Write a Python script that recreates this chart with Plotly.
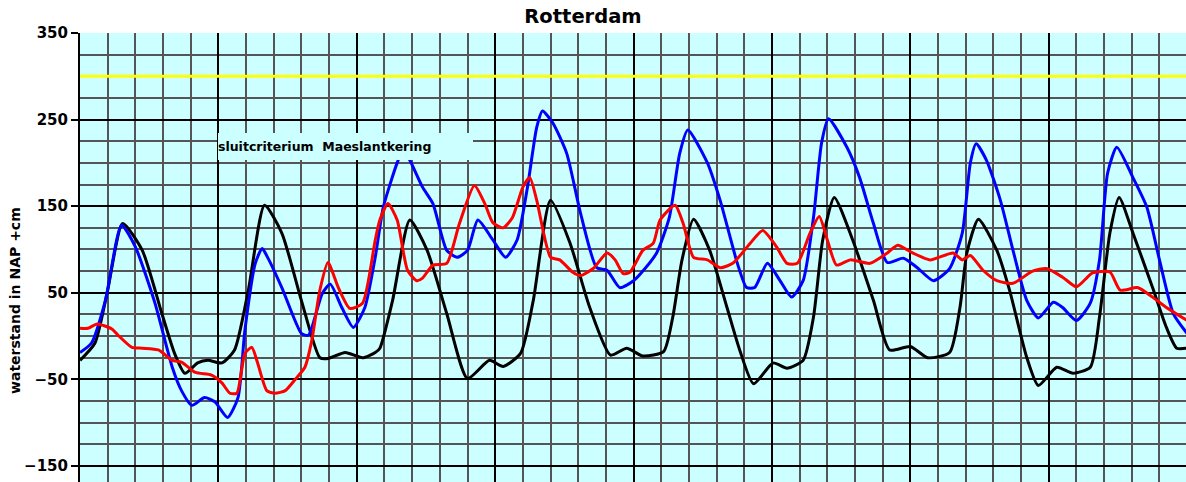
import plotly.graph_objects as go

# ---- data (hours since start, waterstand in cm NAP) ----
black_h = [0, 1.3, 2.4, 3.7, 5.4, 7.1, 8.2, 9.1, 10.2, 11.1, 12.3, 13.4, 14.6, 16.0, 17.5, 19.2, 20.8, 21.5,
           23.0, 24.5, 25.6, 26.0, 27.1, 28.6, 30.1, 31.8, 33.6, 35.5, 36.7, 38.2, 39.3, 40.8, 42.5, 44.2,
           46.0, 47.4, 48.8, 50.6, 51.4, 52.2, 53.2, 54.6, 56.1, 57.2, 58.4, 60.1, 61.3, 62.7, 63.6, 64.4,
           65.4, 67.0, 68.8, 70.2, 72.0, 73.5, 75.4, 76.3, 76.9, 77.9, 79.5, 80.6, 82.1, 83.1, 84.7, 86.1,
           87.6, 88.4, 89.3, 90.1, 91.3, 93.0, 94.2, 95.1, 96.0]
black_v = [-28, -8, 53, 130, 99, 26, -20, -43, -31, -28, -31, -16, 53, 151, 119, 41, -25, -26,
           -19, -25, -19, -14, 41, 134, 99, 26, -49, -28, -35, -20, 41, 157, 107, 33,
           -22, -14, -23, -18, 22, 88, 135, 99, 33, -16, -55, -31, -37, -28, 22, 111,
           160, 111, 41, -16, -12, -25, -19, 33, 96, 135, 99, 53, -25, -57, -36, -43,
           -36, 22, 119, 160, 119, 56, 10, -14, -14]

blue_h = [0, 1.0, 2.2, 3.6, 4.8, 6.5, 8.0, 8.8, 9.7, 10.8, 11.7, 12.8, 13.7, 14.3, 15.2, 15.8, 16.3, 17.5,
          19.2, 19.8, 21.0, 21.7, 22.7, 23.7, 24.7, 25.6, 26.3, 27.5, 28.0, 28.6, 29.7, 30.6, 31.8, 32.7,
          33.6, 34.5, 35.8, 36.9, 37.9, 38.8, 39.6, 40.1, 41.0, 42.2, 43.4, 44.8, 45.7, 46.8, 48.0, 48.6,
          50.0, 51.1, 52.0, 52.7, 54.4, 55.5, 57.0, 57.8, 58.5, 59.6, 60.7, 61.7, 62.7, 63.6, 64.3, 64.9,
          66.5, 67.6, 68.8, 70.0, 71.4, 72.6, 74.0, 75.4, 76.5, 77.2, 77.7, 78.6, 79.8, 80.9, 82.1, 83.1,
          84.4, 85.2, 86.4, 87.6, 88.4, 89.1, 89.9, 91.3, 92.5, 93.6, 94.8, 96.0]
blue_v = [-19, -8, 41, 128, 103, 38, -36, -63, -80, -71, -76, -94, -71, 7, 84, 101, 90, 56,
          3, 1, 49, 60, 33, 10, 33, 91, 149, 200, 215, 203, 172, 153, 99, 91,
          99, 134, 111, 91, 111, 172, 241, 260, 246, 211, 142, 79, 76, 56, 64, 72,
          96, 137, 211, 238, 200, 157, 84, 56, 56, 84, 64, 45, 64, 137, 223, 251,
          218, 183, 130, 85, 90, 79, 64, 78, 119, 200, 222, 203, 157, 99, 41, 21,
          39, 33, 18, 38, 88, 188, 218, 183, 149, 88, 26, 3]

red_h = [0, 0.7, 1.5, 2.8, 3.3, 4.5, 5.4, 6.8, 8.0, 8.8, 10.0, 11.4, 12.3, 13.0, 13.6, 14.3, 14.9, 15.4,
         16.2, 16.9, 17.8, 18.6, 19.5, 20.1, 20.8, 21.5, 22.4, 23.4, 24.5, 25.6, 26.0, 26.7, 27.5, 28.4,
         29.2, 29.7, 30.6, 31.8, 32.9, 34.2, 35.1, 35.8, 36.7, 37.5, 38.4, 39.0, 39.6, 40.8, 41.6, 42.7,
         43.4, 44.5, 45.7, 46.4, 47.1, 47.7, 48.8, 49.7, 50.3, 51.6, 52.3, 53.2, 54.4, 55.5, 56.6, 58.1,
         59.2, 60.4, 61.3, 62.2, 63.3, 64.1, 64.8, 65.6, 66.8, 68.5, 70.0, 70.9, 72.2, 73.7, 75.7, 76.5,
         77.2, 78.3, 79.5, 80.9, 82.6, 83.8, 85.2, 86.4, 87.8, 89.3, 90.2, 91.7, 93.0, 94.2, 96.0]
red_v = [9, 9, 14, 8, 1, -13, -14, -16, -28, -30, -42, -45, -54, -66, -66, -20, -13, -31,
         -63, -66, -63, -51, -36, -5, 53, 85, 56, 32, 38, 111, 134, 153, 134, 76,
         64, 67, 82, 84, 130, 174, 153, 131, 125, 137, 172, 183, 157, 91, 88, 74,
         70, 78, 96, 88, 72, 74, 99, 107, 134, 151, 130, 91, 88, 79, 84, 107,
         122, 103, 84, 84, 119, 138, 111, 82, 88, 84, 96, 105, 96, 88, 96, 88,
         93, 76, 64, 61, 75, 78, 68, 57, 73, 74, 53, 56, 45, 33, 18]

threshold_h = [0, 96]
threshold_v = [300, 300]

title = "Rotterdam"
y_title = "waterstand in NAP +cm"
label = "sluitcriterium  Maeslantkering"

FONT = "DejaVu Sans"
BG = "#CCFFFF"

W, H = 1186, 482
ML, MT = 80, 33
PW, PH = W - ML, H - MT

fig = go.Figure()
fig.add_trace(go.Scatter(x=threshold_h, y=threshold_v, mode="lines",
                         line=dict(color="#FFFF00", width=3), hoverinfo="skip"))
fig.add_trace(go.Scatter(x=black_h, y=black_v, mode="lines",
                         line=dict(color="#000000", width=3, shape="spline", smoothing=0.6)))
fig.add_trace(go.Scatter(x=blue_h, y=blue_v, mode="lines",
                         line=dict(color="#0000FF", width=3, shape="spline", smoothing=0.6)))
fig.add_trace(go.Scatter(x=red_h, y=red_v, mode="lines",
                         line=dict(color="#FF0000", width=3, shape="spline", smoothing=0.6)))

fig.add_annotation(x=12.0, y=219, xref="x", yref="y", xanchor="left", yanchor="middle",
                   text="<b>" + label + "</b>", showarrow=False, align="left",
                   width=255, height=27, bgcolor=BG, borderpad=0, borderwidth=0,
                   font=dict(family=FONT, size=12.5, color="#000000"))

fig.add_annotation(x=(15 - ML) / PW, y=(H - 301) / PH, xref="paper", yref="paper",
                   xanchor="center", yanchor="middle",
                   text="<b>" + y_title + "</b>", showarrow=False, textangle=-90,
                   font=dict(family=FONT, size=14, color="#000000"))

fig.update_layout(
    width=W, height=H,
    margin=dict(l=ML, r=0, t=MT, b=0),
    paper_bgcolor="#FFFFFF", plot_bgcolor=BG,
    showlegend=False,
    title=dict(text="<b>" + title + "</b>", x=583 / W, xanchor="center", xref="container",
               y=1 - 16 / H, yanchor="middle", yref="container",
               font=dict(family=FONT, size=19.5, color="#000000")),
    font=dict(family=FONT, color="#000000"),
)
fig.update_xaxes(range=[0, 95.9], showticklabels=False, ticks="", tick0=0, dtick=12,
                 showgrid=True, gridcolor="#000000", gridwidth=2,
                 minor=dict(dtick=2.4, showgrid=True, gridcolor="#555555", gridwidth=1.5),
                 zeroline=False, showline=False)
fig.update_yaxes(range=[-168.5, 350], tick0=50, dtick=100, ticks="outside", ticklen=7,
                 tickcolor="#000000", tickwidth=1.5,
                 tickfont=dict(family=FONT, size=15, color="#000000", weight="bold"),
                 showgrid=True, gridcolor="#000000", gridwidth=2,
                 minor=dict(dtick=25, showgrid=True, gridcolor="#555555", gridwidth=1.5),
                 zeroline=False, showline=True, linecolor="#000000", linewidth=2)

fig.write_html("out.html", config={"displayModeBar": False},
               post_script="document.body.style.margin='0';document.body.style.overflow='hidden';")
